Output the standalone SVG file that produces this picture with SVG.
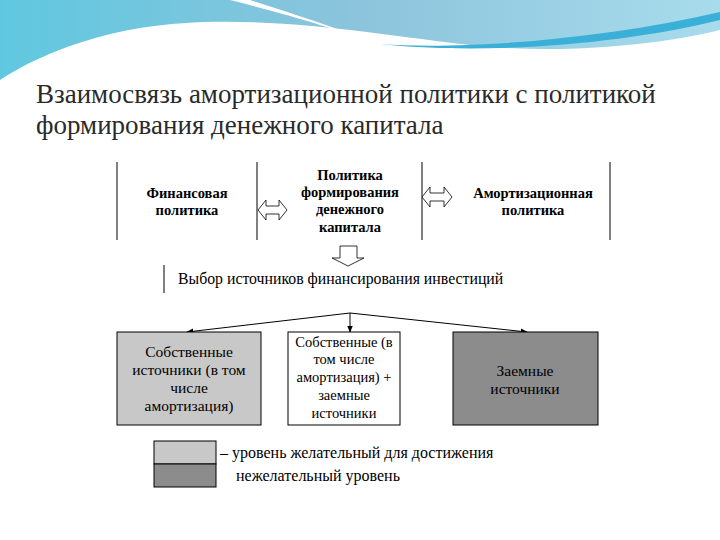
<svg xmlns="http://www.w3.org/2000/svg" width="720" height="540" viewBox="0 0 720 540">
<defs>
<linearGradient id="bg" x1="0" y1="0" x2="1" y2="0"><stop offset="0" stop-color="#5fc8e0"/><stop offset="0.5" stop-color="#8cc4dc"/><stop offset="1" stop-color="#a8dcec"/></linearGradient>
<marker id="ah" viewBox="0 0 10 10" refX="9" refY="5" markerWidth="7" markerHeight="7" orient="auto"><path d="M0,1 L10,5 L0,9 Z" fill="#000"/></marker>
<style>
text{font-family:"Liberation Serif","DejaVu Serif",serif}
.t{fill:#000;text-anchor:middle}
.b{font-weight:bold;font-size:14.5px}
.n{font-size:15.5px}
.m{font-size:14.5px}
.ln{stroke:#000;stroke-width:1;fill:none}
.oa{fill:#fff;stroke:#000;stroke-width:0.8}
.ttl{font-size:27px;fill:#2a2a2a}
</style>
</defs>
<rect width="720" height="540" fill="#fff"/>
<path d="M0,0 H720 V30 C660,45 560,55 470,45 C380,35 250,10 140,28 C80,38 30,60 0,80 Z" fill="url(#bg)"/>
<path d="M230,0 C290,15 340,30 370,42 C330,25 280,10 250,0 Z" fill="#fff"/>
<path d="M380,44 C460,50 600,40 720,12 V20 C620,45 480,55 380,44 Z" fill="#3ab0d8"/>
<text class="ttl" x="36" y="103">Взаимосвязь амортизационной политики с политикой</text>
<text class="ttl" x="36" y="134">формирования денежного капитала</text>
<g id="connectors">
<line class="ln" x1="117" y1="162" x2="117" y2="240"/>
<line class="ln" x1="257" y1="162" x2="257" y2="240"/>
<line class="ln" x1="422" y1="162" x2="422" y2="240"/>
<line class="ln" x1="610" y1="162" x2="610" y2="240"/>
<path class="oa" d="M258,210 L266,200 V206 H279 V200 L287,210 L279,220 V214 H266 V220 Z"/>
<path class="oa" d="M422,197 L430,187 V193 H444 V187 L452,197 L444,207 V201 H430 V207 Z"/>
<path class="oa" d="M340,246 H357 V258 H364 L348,266 L332,258 H340 Z"/>
<line class="ln" x1="164" y1="265" x2="164" y2="293"/>
<line class="ln" x1="350" y1="313" x2="187" y2="332" marker-end="url(#ah)"/>
<line class="ln" x1="350" y1="313" x2="350" y2="332" marker-end="url(#ah)"/>
<line class="ln" x1="350" y1="313" x2="527" y2="332" marker-end="url(#ah)"/>
</g>
<g id="fin"><text class="t b" x="187" y="198">Финансовая</text><text class="t b" x="187" y="215">политика</text></g>
<g id="pol"><text class="t b" x="350" y="180">Политика</text><text class="t b" x="350" y="197">формирования</text><text class="t b" x="350" y="214">денежного</text><text class="t b" x="350" y="232">капитала</text></g>
<g id="amort"><text class="t b" x="533" y="198">Амортизационная</text><text class="t b" x="533" y="215">политика</text></g>
<g id="vybor"><text class="t" x="178" y="284" style="text-anchor:start;font-size:15.8px">Выбор источников финансирования инвестиций</text></g>
<g id="own"><rect x="117" y="332" width="144" height="93" fill="#c8c8c8" stroke="#000"/>
<text class="t n" x="189" y="357">Собственные</text><text class="t n" x="189" y="375">источники (в том</text><text class="t n" x="189" y="393">числе</text><text class="t n" x="189" y="411">амортизация)</text></g>
<g id="mix"><rect x="288" y="332" width="112" height="93" fill="#fff" stroke="#000"/>
<text class="t m" x="344" y="347">Собственные (в</text><text class="t m" x="344" y="364">том числе</text><text class="t m" x="344" y="382">амортизация) +</text><text class="t m" x="344" y="400">заемные</text><text class="t m" x="344" y="418">источники</text></g>
<g id="loan"><rect x="453" y="332" width="145" height="93" fill="#8c8c8c" stroke="#000"/>
<text class="t n" x="525" y="376">Заемные</text><text class="t n" x="525" y="394">источники</text></g>
<g id="legend">
<rect x="154" y="441" width="62" height="23" fill="#c8c8c8" stroke="#000"/>
<rect x="154" y="464" width="62" height="23" fill="#8c8c8c" stroke="#000"/>
<text class="t" x="220" y="458" style="text-anchor:start;font-size:16px">– уровень желательный для достижения</text>
<text class="t" x="236" y="481" style="text-anchor:start;font-size:16px">нежелательный уровень</text>
</g>
</svg>
